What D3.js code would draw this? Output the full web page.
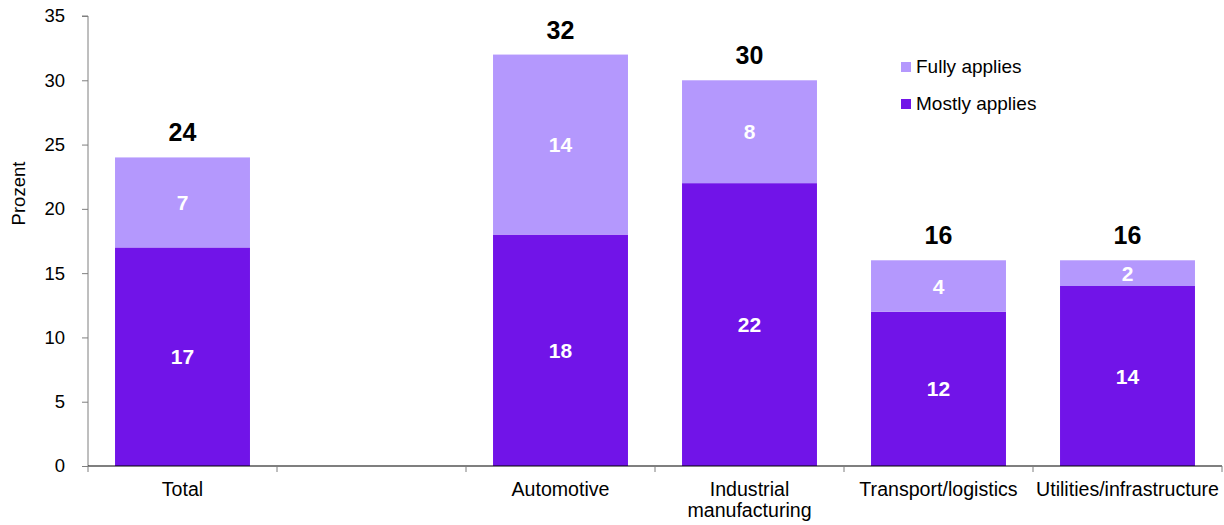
<!DOCTYPE html>
<html>
<head>
<meta charset="utf-8">
<title>Stacked bars</title>
<script src="https://d3js.org/d3.v7.min.js"></script>
<style>
  body { margin: 0; background: #fff; }
  text { font-family: "Liberation Sans", Arial, sans-serif; }
</style>
</head>
<body>
<div id="chart"></div>
<script>
// data
var categories = ["Total", "", "Automotive", "Industrial\nmanufacturing", "Transport/logistics", "Utilities/infrastructure"];
var mostly = [17, null, 18, 22, 12, 14];
var fully = [7, null, 14, 8, 4, 2];
var yTicks = [0, 5, 10, 15, 20, 25, 30, 35];
var seriesNames = ["Fully applies", "Mostly applies"];

var colDark = "#7114e8", colLight = "#b498fd";

var margin = {top: 16, right: 2, bottom: 59, left: 88},
    width = 1224 - margin.left - margin.right,
    height = 525 - margin.top - margin.bottom;

var svg = d3.select("#chart").append("svg")
    .attr("width", 1224).attr("height", 525)
  .append("g")
    .attr("transform", "translate(" + margin.left + "," + margin.top + ")");

var x = d3.scaleBand().domain(d3.range(categories.length)).range([0, width]).paddingInner(0.286).paddingOuter(0.143);
var y = d3.scaleLinear().domain([0, 35]).range([height, 0]);

// y axis
var ya = svg.append("g").call(d3.axisLeft(y).tickValues(yTicks).tickSize(6).tickPadding(17));
ya.selectAll("path, line").attr("stroke", "#7f7f7f");
ya.select(".domain").attr("d", "M0," + height + "V0H-6");
ya.selectAll("text").attr("font-size", 18.5).attr("fill", "#000");

// bars
var idx = d3.range(categories.length).filter(function(i) { return mostly[i] != null; });
svg.selectAll(".m").data(idx).enter().append("rect")
  .attr("x", function(i) { return x(i); })
  .attr("width", x.bandwidth())
  .attr("y", function(i) { return y(mostly[i]); })
  .attr("height", function(i) { return y(0) - y(mostly[i]); })
  .attr("fill", colDark);
svg.selectAll(".f").data(idx).enter().append("rect")
  .attr("x", function(i) { return x(i); })
  .attr("width", x.bandwidth())
  .attr("y", function(i) { return y(mostly[i] + fully[i]); })
  .attr("height", function(i) { return y(mostly[i]) - y(mostly[i] + fully[i]); })
  .attr("fill", colLight);

// inside labels
svg.selectAll(".ml").data(idx).enter().append("text")
  .attr("x", function(i) { return x(i) + x.bandwidth() / 2; })
  .attr("y", function(i) { return y(mostly[i] / 2) + 7.5; })
  .attr("text-anchor", "middle").attr("font-size", 21).attr("font-weight", "bold").attr("fill", "#fff")
  .text(function(i) { return mostly[i]; });
svg.selectAll(".fl").data(idx).enter().append("text")
  .attr("x", function(i) { return x(i) + x.bandwidth() / 2; })
  .attr("y", function(i) { return y(mostly[i] + fully[i] / 2) + 7.5; })
  .attr("text-anchor", "middle").attr("font-size", 21).attr("font-weight", "bold").attr("fill", "#fff")
  .text(function(i) { return fully[i]; });

// totals
svg.selectAll(".tl").data(idx).enter().append("text")
  .attr("x", function(i) { return x(i) + x.bandwidth() / 2; })
  .attr("y", function(i) { return y(mostly[i] + fully[i]) - 16; })
  .attr("text-anchor", "middle").attr("font-size", 25).attr("font-weight", "bold").attr("fill", "#000")
  .text(function(i) { return mostly[i] + fully[i]; });

// x axis
var xa = svg.append("g").attr("transform", "translate(0," + height + ")");
xa.append("line").attr("x1", 0).attr("x2", width).attr("stroke", "#000").attr("stroke-width", 1.2);
var bounds = d3.range(categories.length + 1).map(function(i) { return i * x.step(); });
xa.selectAll(".tk").data(bounds).enter().append("line")
  .attr("x1", function(d) { return d; }).attr("x2", function(d) { return d; })
  .attr("y1", 0).attr("y2", 6).attr("stroke", "#7f7f7f");
xa.selectAll(".xl").data(d3.range(categories.length)).enter().append("text")
  .attr("x", function(i) { return x(i) + x.bandwidth() / 2; })
  .attr("y", 30)
  .attr("text-anchor", "middle").attr("font-size", 19.6).attr("fill", "#000")
  .each(function(i) {
    var t = d3.select(this);
    categories[i].split("\n").forEach(function(s, k) {
      t.append("tspan").attr("x", x(i) + x.bandwidth() / 2).attr("dy", k ? 21 : 0).text(s);
    });
  });

// y label
svg.append("text")
  .attr("transform", "translate(" + (-63) + "," + (193.5 - margin.top) + ") rotate(-90)")
  .attr("text-anchor", "middle").attr("font-size", 18.5).attr("fill", "#000")
  .text("Prozent");

// legend
var lg = svg.append("g").attr("transform", "translate(" + (901 - margin.left) + "," + (62 - margin.top) + ")");
[colLight, colDark].forEach(function(c, k) {
  lg.append("rect").attr("x", 0).attr("y", k * 37).attr("width", 10).attr("height", 10).attr("fill", c);
  lg.append("text").attr("x", 15).attr("y", k * 37 + 11).attr("font-size", 19).attr("fill", "#000").text(seriesNames[k]);
});
</script>
</body>
</html>
